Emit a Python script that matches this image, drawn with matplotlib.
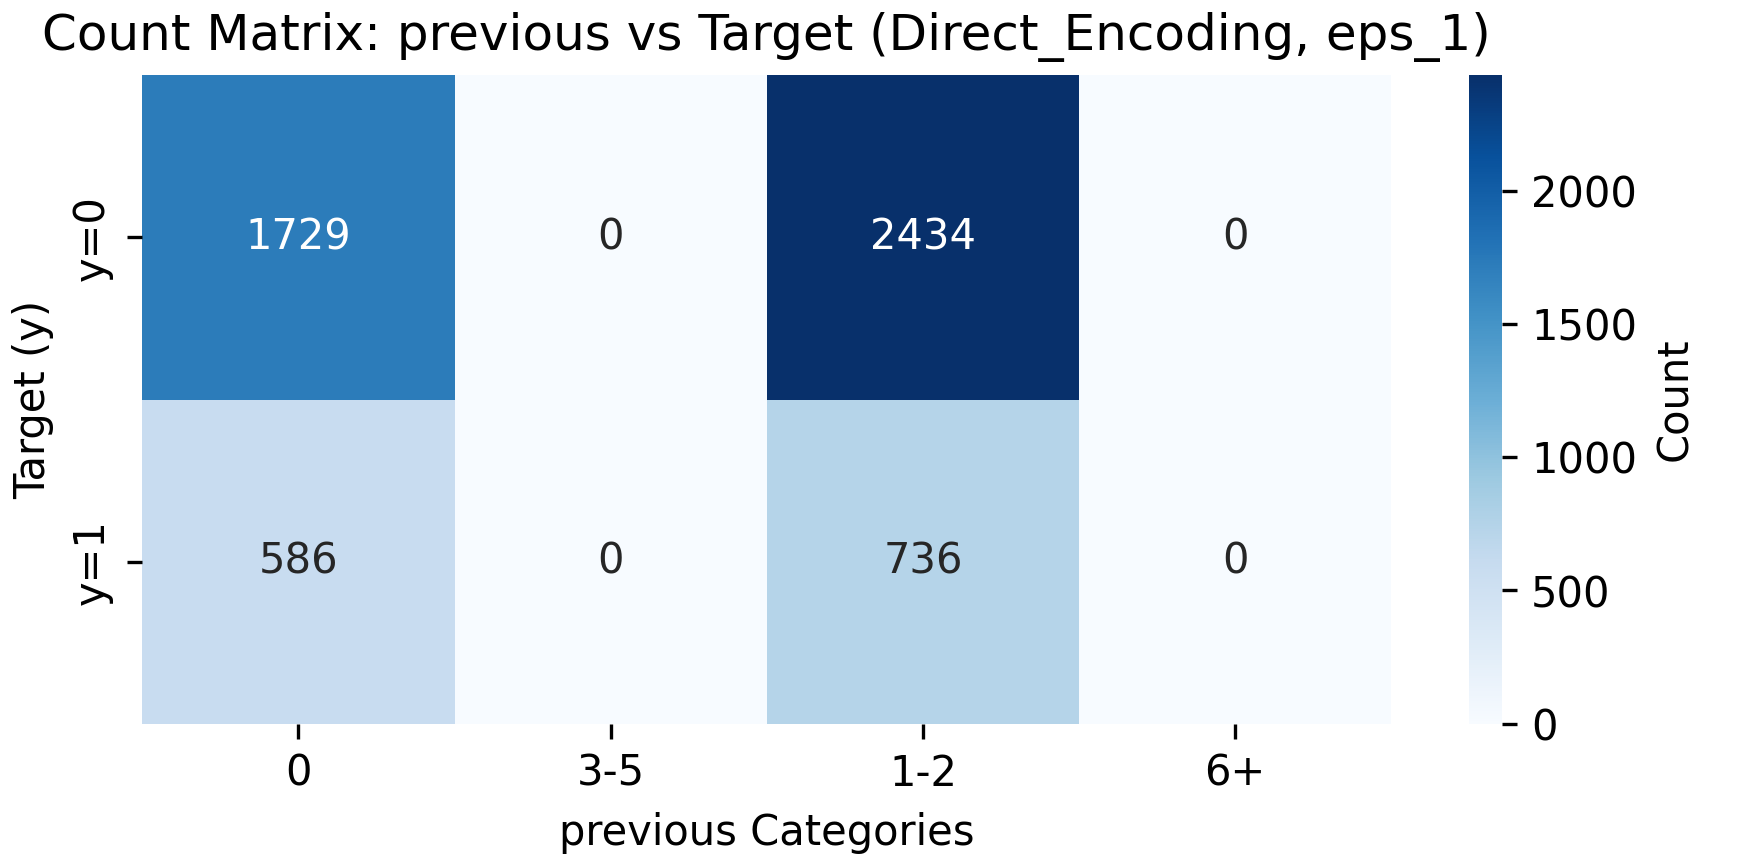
import numpy as np
import pandas as pd
import seaborn as sns
import matplotlib
matplotlib.use("Agg")
import matplotlib.pyplot as plt

categories = ["0", "3-5", "1-2", "6+"]
targets = ["y=0", "y=1"]
counts_y0 = [1729, 0, 2434, 0]
counts_y1 = [586, 0, 736, 0]

df = pd.DataFrame([counts_y0, counts_y1], index=targets, columns=categories)

fig, ax = plt.subplots(figsize=(5.803, 2.887), dpi=300)
sns.heatmap(df, annot=True, fmt="d", cmap="Blues", ax=ax,
            cbar_kws={"label": "Count"})
ax.set_title("Count Matrix: previous vs Target (Direct_Encoding, eps_1)")
ax.set_xlabel("previous Categories")
ax.set_ylabel("Target (y)")
fig.tight_layout(pad=0.3)
fig.savefig("out.png", dpi=300)
